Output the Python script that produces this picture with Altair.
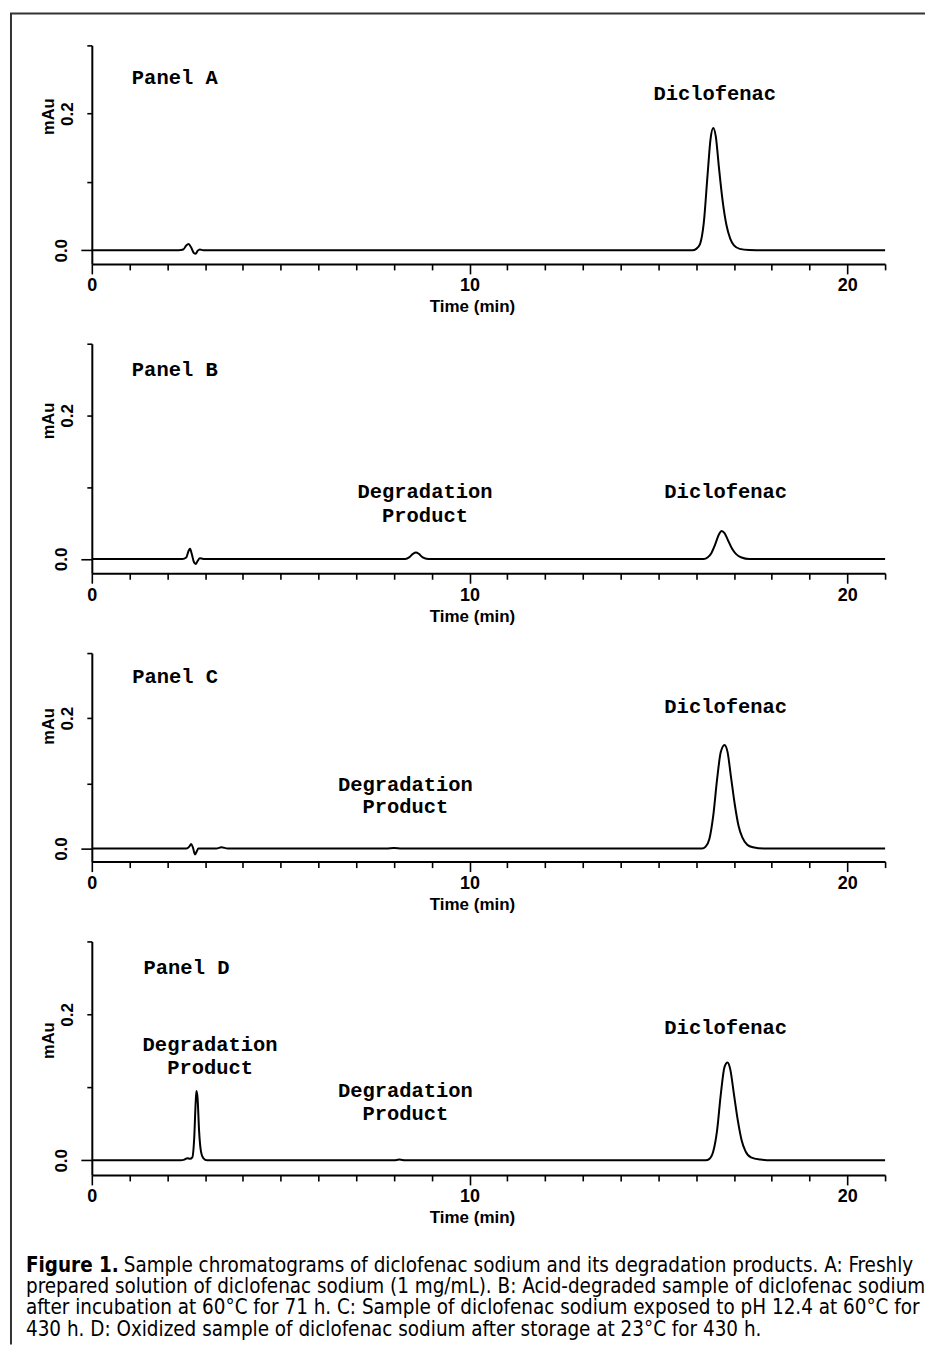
import altair as alt
import pandas as pd

# ---------------- data ----------------
# Panel A trace (time in min, absorbance)
A_time = [0.0, 2.3, 2.42, 2.5, 2.56, 2.63, 2.7, 2.75, 2.8, 2.86, 2.95, 5.0, 8.0, 12.0, 15.9,
          16.0, 16.1, 16.2, 16.3, 16.38, 16.45, 16.52, 16.6, 16.7, 16.8, 16.9, 17.0, 17.15,
          17.4, 18.0, 21.0]
A_mau = [0.0, 0.0, 0.001, 0.007, 0.009, 0.004, -0.004, -0.005, -0.001, 0.001, 0.0, 0.0, 0.0,
         0.0, 0.0, 0.002, 0.009, 0.04, 0.11, 0.163, 0.179, 0.166, 0.122, 0.072, 0.037, 0.017,
         0.007, 0.002, 0.0005, 0.0, 0.0]

# Panel B trace
B_time = [0.0, 2.4, 2.5, 2.56, 2.6, 2.65, 2.7, 2.75, 2.8, 2.86, 2.95, 8.3, 8.4, 8.5, 8.58,
          8.66, 8.76, 8.9, 16.2, 16.3, 16.4, 16.5, 16.6, 16.67, 16.75, 16.85, 16.95, 17.05,
          17.2, 17.4, 21.0]
B_mau = [0.0, 0.0, 0.002, 0.011, 0.014, 0.006, -0.004, -0.007, -0.003, 0.001, 0.0, 0.0,
         0.002, 0.007, 0.009, 0.007, 0.002, 0.0, 0.0, 0.002, 0.008, 0.02, 0.034, 0.039, 0.036,
         0.025, 0.014, 0.007, 0.002, 0.0, 0.0]

# Panel C trace
C_time = [0.0, 2.5, 2.58, 2.63, 2.68, 2.73, 2.78, 2.82, 3.3, 3.43, 3.6, 7.8, 8.0, 8.2, 16.15,
          16.25, 16.35, 16.45, 16.55, 16.65, 16.75, 16.83, 16.92, 17.02, 17.12, 17.22, 17.35,
          17.5, 17.8, 21.0]
C_mau = [0.0, 0.0, 0.003, 0.007, 0.001, -0.009, -0.004, 0.0, 0.0, 0.002, 0.0, 0.0, 0.001,
         0.0, 0.0, 0.003, 0.015, 0.05, 0.105, 0.148, 0.159, 0.148, 0.11, 0.068, 0.035, 0.017,
         0.006, 0.002, 0.0, 0.0]

# Panel D trace
D_time = [0.0, 2.35, 2.45, 2.53, 2.6, 2.66, 2.71, 2.75, 2.77, 2.8, 2.84, 2.89, 2.95, 3.05,
          8.0, 8.14, 8.3, 16.25, 16.35, 16.45, 16.55, 16.65, 16.75, 16.83, 16.9, 17.0, 17.1,
          17.2, 17.3, 17.45, 17.7, 18.0, 21.0]
D_mau = [0.0, 0.0, 0.001, 0.003, 0.002, 0.004, 0.03, 0.08, 0.095, 0.085, 0.04, 0.012, 0.003,
         0.0, 0.0, 0.001, 0.0, 0.0, 0.002, 0.012, 0.04, 0.09, 0.128, 0.134, 0.125, 0.09, 0.055,
         0.028, 0.013, 0.004, 0.001, 0.0, 0.0]

panel_names = ["A", "B", "C", "D"]
panel_title_x = [1.06, 1.06, 1.07, 1.37]
panel_title_y = [0.2526, 0.264, 0.263, 0.264]

# peak annotations (one row per text line)
A_lab_text = ["Diclofenac"]
A_lab_x = [16.49]
A_lab_y = [0.229]
B_lab_text = ["Degradation", "Product", "Diclofenac"]
B_lab_x = [8.82, 8.82, 16.78]
B_lab_y = [0.093, 0.060, 0.093]
C_lab_text = ["Degradation", "Product", "Diclofenac"]
C_lab_x = [8.30, 8.30, 16.78]
C_lab_y = [0.098, 0.063, 0.217]
D_lab_text = ["Degradation", "Product", "Degradation", "Product", "Diclofenac"]
D_lab_x = [3.13, 3.13, 8.30, 8.30, 16.78]
D_lab_y = [0.158, 0.127, 0.095, 0.063, 0.181]

x_tick_values = list(range(0, 22))
y_tick_values = [0.0, 0.1, 0.2, 0.3]

caption_bold = "Figure 1."
caption_lines = [
    "Sample chromatograms of diclofenac sodium and its degradation products. A: Freshly",
    "prepared solution of diclofenac sodium (1 mg/mL). B: Acid-degraded sample of diclofenac sodium",
    "after incubation at 60°C for 71 h. C: Sample of diclofenac sodium exposed to pH 12.4 at 60°C for",
    "430 h. D: Oxidized sample of diclofenac sodium after storage at 23°C for 430 h.",
]

# ---------------- layout / style ----------------
PLOT_W = 795
heights = [219, 230, 209, 234]
mau_title_y = [71, 77, 73, 99]
AX_FONT = "Liberation Sans, Arial, sans-serif"
MONO = "Liberation Mono, Courier New, monospace"
CAP_FONT = "DejaVu Sans Condensed, Open Sans, sans-serif"

traces = {"A": (A_time, A_mau), "B": (B_time, B_mau), "C": (C_time, C_mau), "D": (D_time, D_mau)}
labels = {"A": (A_lab_text, A_lab_x, A_lab_y), "B": (B_lab_text, B_lab_x, B_lab_y),
          "C": (C_lab_text, C_lab_x, C_lab_y), "D": (D_lab_text, D_lab_x, D_lab_y)}

xs = alt.Scale(domain=[0, 21], nice=False, zero=False)
ys = alt.Scale(domain=[-0.02, 0.3], nice=False, zero=False)


def make_panel(i, name):
    t, m = traces[name]
    df = pd.DataFrame({"t": t, "mAu": m})
    xaxis = alt.Axis(
        values=x_tick_values, format="d",
        labelExpr="datum.value % 10 === 0 ? datum.label : ''",
        tickSize={"condition": {"test": "datum.value % 10 === 0", "value": 10}, "value": 6},
        labelFont=AX_FONT, labelFontSize=18, labelFontWeight="bold", labelColor="black",
        labelPadding=3, labelFlush=False, labelOverlap=False, labelBound=False,
        title="Time (min)", titleFont=AX_FONT, titleFontSize=17, titleFontWeight="bold",
        titleColor="black", titleX=381, titleY=43, titleAlign="center", titleBaseline="middle",
        grid=False, domainColor="black", domainWidth=2, tickColor="black", tickWidth=1.6,
    )
    yaxis = alt.Axis(
        values=y_tick_values,
        labelExpr="(datum.value === 0 || abs(datum.value - 0.2) < 1e-9) ? format(datum.value, '.1f') : ''",
        tickSize={"condition": {"test": "datum.value === 0", "value": 11}, "value": 5},
        labelAngle=270, labelAlign="center", labelBaseline="alphabetic", labelPadding=14,
        labelFont=AX_FONT, labelFontSize=17, labelFontWeight="bold", labelColor="black",
        labelFlush=False, labelOverlap=False, labelBound=False,
        title="mAu", titleFont=AX_FONT, titleFontSize=16.5, titleFontWeight="bold",
        titleColor="black", titleAngle=270, titleX=-43.5, titleY=mau_title_y[i],
        titleAlign="center", titleBaseline="middle",
        grid=False, domainColor="black", domainWidth=2, tickColor="black", tickWidth=1.6,
    )
    X = alt.X("t:Q", scale=xs, axis=xaxis)
    Y = alt.Y("mAu:Q", scale=ys, axis=yaxis)
    line = alt.Chart(df).mark_line(color="black", strokeWidth=2, interpolate="monotone").encode(
        x=X, y=Y)
    tdf = pd.DataFrame({"t": [panel_title_x[i]], "mAu": [panel_title_y[i]], "txt": [f"Panel {name}"]})
    title = alt.Chart(tdf).mark_text(align="left", baseline="middle", font=MONO, fontWeight="bold",
                                     fontSize=20.5, color="black").encode(x=X, y=Y, text="txt:N")
    lt, lx, ly = labels[name]
    ldf = pd.DataFrame({"t": lx, "mAu": ly, "txt": lt})
    peaks = alt.Chart(ldf).mark_text(align="center", baseline="middle", font=MONO, fontWeight="bold",
                                     fontSize=20.5, color="black").encode(x=X, y=Y, text="txt:N")
    layers = [line, title, peaks]
    if i == 0:
        dummy = pd.DataFrame({"k": [0]})
        frame_left = alt.Chart(dummy).mark_rule(color="#333333", strokeWidth=2).encode(
            x=alt.value(-81), y=alt.value(-32), y2=alt.value(1302))
        frame_top = alt.Chart(dummy).mark_rule(color="#333333", strokeWidth=2).encode(
            x=alt.value(-82), x2=alt.value(835), y=alt.value(-32))
        layers += [frame_left, frame_top]
    return alt.layer(*layers).properties(width=PLOT_W, height=heights[i])


panels = [make_panel(i, n) for i, n in enumerate(panel_names)]

# caption block
cap_scale = alt.Scale(domain=[0, 3], range=[11, 75])
bold_df = pd.DataFrame({"line": [0], "txt": [caption_bold]})
rest_df = pd.DataFrame({"line": [0], "txt": [caption_lines[0]]})
other_df = pd.DataFrame({"line": [1, 2, 3], "txt": caption_lines[1:]})
cap_common = dict(baseline="middle", font=CAP_FONT, fontSize=20.5, color="black")
cap_bold = alt.Chart(bold_df).mark_text(align="left", fontWeight="bold", **cap_common).encode(
    x=alt.value(-66), y=alt.Y("line:Q", scale=cap_scale, axis=None), text="txt:N")
cap_rest = alt.Chart(rest_df).mark_text(align="left", **cap_common).encode(
    x=alt.value(32), y=alt.Y("line:Q", scale=cap_scale, axis=None), text="txt:N")
cap_other = alt.Chart(other_df).mark_text(align="left", **cap_common).encode(
    x=alt.value(-66), y=alt.Y("line:Q", scale=cap_scale, axis=None), text="txt:N")
caption = alt.layer(cap_bold, cap_rest, cap_other).properties(width=PLOT_W, height=80)

chart = alt.vconcat(*panels, caption, spacing=80, bounds="flush").properties(
    padding={"left": 1, "top": 3, "right": 0, "bottom": 0}
).configure_view(stroke=None)

chart.save("out.html", embed_options={"renderer": "svg", "actions": False})
